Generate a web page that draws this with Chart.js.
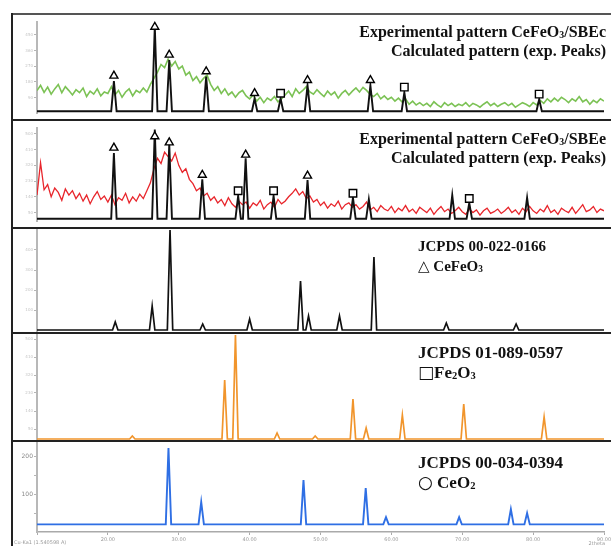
<!DOCTYPE html>
<html>
<head>
<meta charset="utf-8">
<script src="https://cdn.jsdelivr.net/npm/chart.js@4.4.1/dist/chart.umd.min.js"></script>
<style>
  body { margin: 0; background: #fff; }
  #wrap { position: relative; width: 611px; height: 546px; overflow: hidden; font-family: "Liberation Serif", serif; }
  canvas { position: absolute; left: 12px; }
  .hline { position: absolute; left: 12px; width: 599px; height: 2px; background: #222; }
  .vline { position: absolute; left: 11px; top: 13px; width: 2px; height: 533px; background: #222; }
  .lbl { position: absolute; font-weight: bold; color: #111; white-space: nowrap; line-height: 1; }
  .sb { font-size: 0.62em; vertical-align: -0.12em; }
  .sym { font-family: "DejaVu Sans", sans-serif; font-weight: normal; }
  .small { position: absolute; font-family: "DejaVu Sans", sans-serif; font-size: 5px; color: #999; line-height: 1; }
</style>
</head>
<body>
<div id="wrap">
  <canvas id="c1" width="599" height="105" style="top:15px"></canvas>
  <canvas id="c2" width="599" height="107" style="top:121px"></canvas>
  <canvas id="c3" width="599" height="104" style="top:229px"></canvas>
  <canvas id="c4" width="599" height="107" style="top:334px"></canvas>
  <canvas id="c5" width="599" height="104" style="top:442px"></canvas>

  <div class="hline" style="top:13px;background:#555"></div>
  <div class="hline" style="top:119px"></div>
  <div class="hline" style="top:227px"></div>
  <div class="hline" style="top:332px"></div>
  <div class="hline" style="top:440px"></div>
  <div class="vline"></div>

  <div class="lbl" style="right:5px;top:24px;font-size:16px">Experimental pattern CeFeO<span class="sb">3</span>/SBEc</div>
  <div class="lbl" style="right:5px;top:43px;font-size:16px">Calculated pattern (exp. Peaks)</div>
  <div class="lbl" style="right:5px;top:131px;font-size:16px">Experimental pattern CeFeO<span class="sb">3</span>/SBEe</div>
  <div class="lbl" style="right:5px;top:150px;font-size:16px">Calculated pattern (exp. Peaks)</div>
  <div class="lbl" style="left:418px;top:239px;font-size:15px">JCPDS 00-022-0166</div>
  <div class="lbl" style="left:418px;top:259px;font-size:15px"><span class="sym">△</span> CeFeO<span class="sb">3</span></div>
  <div class="lbl" style="left:418px;top:344px;font-size:17px">JCPDS 01-089-0597</div>
  <div class="lbl" style="left:418px;top:364px;font-size:17px"><span class="sym">□</span>Fe<span class="sb">2</span>O<span class="sb">3</span></div>
  <div class="lbl" style="left:418px;top:454px;font-size:17px">JCPDS 00-034-0394</div>
  <div class="lbl" style="left:418px;top:474px;font-size:17px"><span class="sym">○</span> CeO<span class="sb">2</span></div>

  <div class="small" style="left:14px;top:540px">Cu-Ka1 (1.540598 A)</div>
  <div class="small" style="right:6px;top:541px">2theta</div>
</div>
<script>
// step scan, 2theta grid
const scanStart = 10;
const scanStep = 0.5;

// experimental pattern CeFeO3/SBEc (green)
const sbecIntensity = [
  130, 160, 120, 150, 110, 140, 165, 118, 153, 130,
  105, 135, 118, 145, 96, 127, 110, 140, 100, 122,
  114, 153, 105, 131, 92, 122, 140, 100, 131, 118,
  145, 122, 166, 200, 236, 280, 262, 310, 271, 297,
  254, 271, 219, 236, 188, 210, 175, 200, 219, 166,
  131, 153, 114, 140, 105, 122, 92, 118, 131, 100,
  83, 105, 70, 92, 61, 87, 74, 96, 66, 83,
  105, 127, 96, 140, 114, 131, 153, 122, 109, 135,
  114, 96, 127, 105, 122, 87, 114, 131, 105, 127,
  145, 122, 149, 131, 109, 96, 114, 83, 100, 79,
  92, 70, 87, 66, 83, 52, 70, 48, 61, 44,
  57, 39, 66, 48, 35, 61, 44, 57, 39, 52,
  44, 61, 39, 57, 48, 35, 52, 66, 44, 57,
  39, 52, 61, 44, 57, 35, 48, 61, 52, 39,
  61, 48, 74, 57, 83, 66, 87, 70, 92, 79,
  61, 83, 70, 96, 66, 79, 52, 74, 61, 83,
  70
];

// experimental pattern CeFeO3/SBEe (red)
const sbeeIntensity = [
  150, 335, 180, 210, 140, 190, 165, 120, 185, 150,
  175, 130, 160, 115, 150, 100, 140, 170, 125, 145,
  110, 150, 95, 135, 120, 160, 105, 140, 115, 155,
  130, 175, 220, 300, 360, 330, 395, 370, 345, 390,
  320, 280, 300, 240, 215, 175, 190, 145, 160, 120,
  140, 105, 125, 90, 135, 100, 80, 115, 95, 110,
  75, 105, 90, 120, 70, 95, 110, 80, 125, 100,
  115, 140, 160, 185, 150, 170, 130, 145, 110, 125,
  90, 110, 75, 100, 85, 115, 70, 95, 105, 80,
  95, 70, 85, 110, 65, 80, 55, 90, 70, 60,
  85, 50, 75, 60, 90, 55, 70, 45, 80, 65,
  50, 75, 40, 65, 85, 55, 70, 45, 60, 80,
  55, 40, 70, 50, 65, 35, 60, 75, 45, 55,
  70, 45, 60, 80, 50, 65, 40, 75, 55, 85,
  60, 45, 70, 55, 90, 50, 65, 40, 75, 60,
  50, 80, 45, 70, 95, 55, 65, 85, 50, 70,
  60
];

// calculated patterns (exp. peaks)
const sbecCalcBase = 12;
const sbecPeakPos = [20.85, 26.62, 28.66, 33.87, 40.70, 44.37, 48.17, 57.04, 61.83, 80.85];
const sbecPeakInt = [185, 500, 305, 210, 85, 85, 160, 160, 120, 80];
const sbecMarkPos = [20.85, 26.62, 28.66, 33.87, 40.70, 44.37, 48.17, 57.04, 61.83, 80.85];
const sbecMarkY = [215, 495, 335, 240, 115, 115, 190, 190, 150, 110];
const sbecMarkType = ["triangle", "triangle", "triangle", "triangle", "triangle", "rect", "triangle", "triangle", "rect", "rect"];

const sbeeCalcBase = 15;
const sbeePeakPos = [20.85, 26.62, 28.66, 33.32, 38.38, 39.44, 43.38, 48.17, 54.58, 56.82, 68.59, 70.99, 79.15];
const sbeePeakInt = [390, 525, 440, 240, 145, 360, 145, 235, 135, 125, 150, 105, 135];
const sbeeMarkPos = [20.85, 26.62, 28.66, 33.32, 38.38, 39.44, 43.38, 48.17, 54.58, 70.99];
const sbeeMarkY = [420, 485, 450, 265, 175, 380, 175, 260, 160, 130];
const sbeeMarkType = ["triangle", "triangle", "triangle", "triangle", "rect", "triangle", "rect", "triangle", "rect", "rect"];

// reference cards
const cefeo3Pos = [21.04, 26.25, 28.77, 33.38, 40.00, 47.18, 48.31, 52.68, 57.54, 67.75, 77.60];
const cefeo3Int = [40, 120, 500, 30, 55, 245, 70, 70, 365, 35, 30];

const fe2o3Pos = [23.45, 36.48, 38.00, 43.87, 49.25, 54.58, 56.44, 61.55, 70.21, 81.55];
const fe2o3Int = [15, 295, 520, 30, 15, 200, 55, 120, 175, 110];

const ceo2Base = 20;
const ceo2Pos = [28.55, 33.17, 47.60, 56.38, 59.24, 69.56, 76.86, 79.15];
const ceo2Int = [221, 79, 137, 116, 39, 39, 60, 50];

// y axis ticks per panel
const ticks1 = [90, 180, 270, 360, 450];
const ticks2 = [50, 140, 230, 320, 410, 500];
const ticks3 = [100, 200, 300, 400];
const ticks4 = [50, 140, 230, 320, 410, 500];
const ticks5 = [50, 100, 150, 200];
const ticks5Labels = ["", "100", "", "200"];

const peakHalfWidth = 0.38;

function scan(values) {
  return values.map((v, i) => ({ x: scanStart + i * scanStep, y: v }));
}

function stick(pos, inten, base) {
  const pts = [{ x: 10, y: base }];
  pos.forEach((p, i) => {
    pts.push({ x: p - peakHalfWidth, y: base });
    pts.push({ x: p, y: inten[i] });
    pts.push({ x: p + peakHalfWidth, y: base });
  });
  pts.push({ x: 90, y: base });
  return pts;
}

function markers(pos, ys, types) {
  return {
    data: pos.map((p, i) => ({ x: p, y: ys[i] })),
    showLine: false,
    pointStyle: types,
    pointRadius: types.map(t => t === "rect" ? 5.3 : 4.6),
    pointBorderColor: "#000",
    pointBackgroundColor: "#fff",
    pointBorderWidth: 1.4,
    clip: false
  };
}

function line(data, color, width) {
  return { data, borderColor: color, borderWidth: width, pointRadius: 0, fill: false };
}

function makeChart(id, datasets, yMin, yMax, yTicks, tickLabels, showX) {
  const xAxis = showX ? {
    type: "linear", min: 10, max: 90,
    ticks: {
      stepSize: 10, autoSkip: false, maxRotation: 0, padding: 2,
      font: { family: "DejaVu Sans", size: 5 }, color: "#999",
      callback: v => v === 10 ? "" : v.toFixed(2)
    },
    grid: { drawOnChartArea: false, tickLength: 3, color: "#aaa" },
    border: { color: "#aaa", width: 1.5 },
    afterFit: s => { s.height = 14; s.paddingLeft = 0; s.paddingRight = 0; }
  } : { type: "linear", min: 10, max: 90, display: false };

  return new Chart(document.getElementById(id), {
    type: "line",
    data: { datasets },
    options: {
      responsive: false,
      animation: false,
      events: [],
      layout: { padding: { right: 7 } },
      plugins: { legend: { display: false }, tooltip: { enabled: false } },
      elements: { line: { tension: 0 } },
      scales: {
        x: xAxis,
        y: {
          min: yMin, max: yMax,
          afterBuildTicks: s => { s.ticks = yTicks.map(v => ({ value: v })); },
          afterFit: s => { s.width = 25; s.paddingTop = 0; s.paddingBottom = 0; },
          grid: { drawOnChartArea: false, tickLength: 3, color: "#b5b5b5" },
          border: { color: "#b8b8b8", width: 2 },
          ticks: {
            autoSkip: false, padding: 1,
            font: { family: "DejaVu Sans", size: showX ? 6 : 4 },
            color: showX ? "#888" : "#c4c4c4",
            callback: (v, i) => tickLabels ? tickLabels[i] : v
          }
        }
      }
    }
  });
}

makeChart("c1", [
  markers(sbecMarkPos, sbecMarkY, sbecMarkType),
  line(stick(sbecPeakPos, sbecPeakInt, sbecCalcBase), "#111", 1.9),
  line(scan(sbecIntensity), "#7cc255", 1.6)
], 0, 525, ticks1, null, false);

makeChart("c2", [
  markers(sbeeMarkPos, sbeeMarkY, sbeeMarkType),
  line(stick(sbeePeakPos, sbeePeakInt, sbeeCalcBase), "#111", 1.9),
  line(scan(sbeeIntensity), "#e8262c", 1.3)
], 0, 535, ticks2, null, false);

makeChart("c3", [
  line(stick(cefeo3Pos, cefeo3Int, 0), "#111", 1.7)
], -15, 505, ticks3, null, false);

makeChart("c4", [
  line(stick(fe2o3Pos, fe2o3Int, 0), "#f1952c", 1.7)
], -10, 525, ticks4, null, false);

makeChart("c5", [
  line(stick(ceo2Pos, ceo2Int, ceo2Base), "#2f6fe4", 1.9)
], 0, 237, ticks5, ticks5Labels, true);
</script>
</body>
</html>
